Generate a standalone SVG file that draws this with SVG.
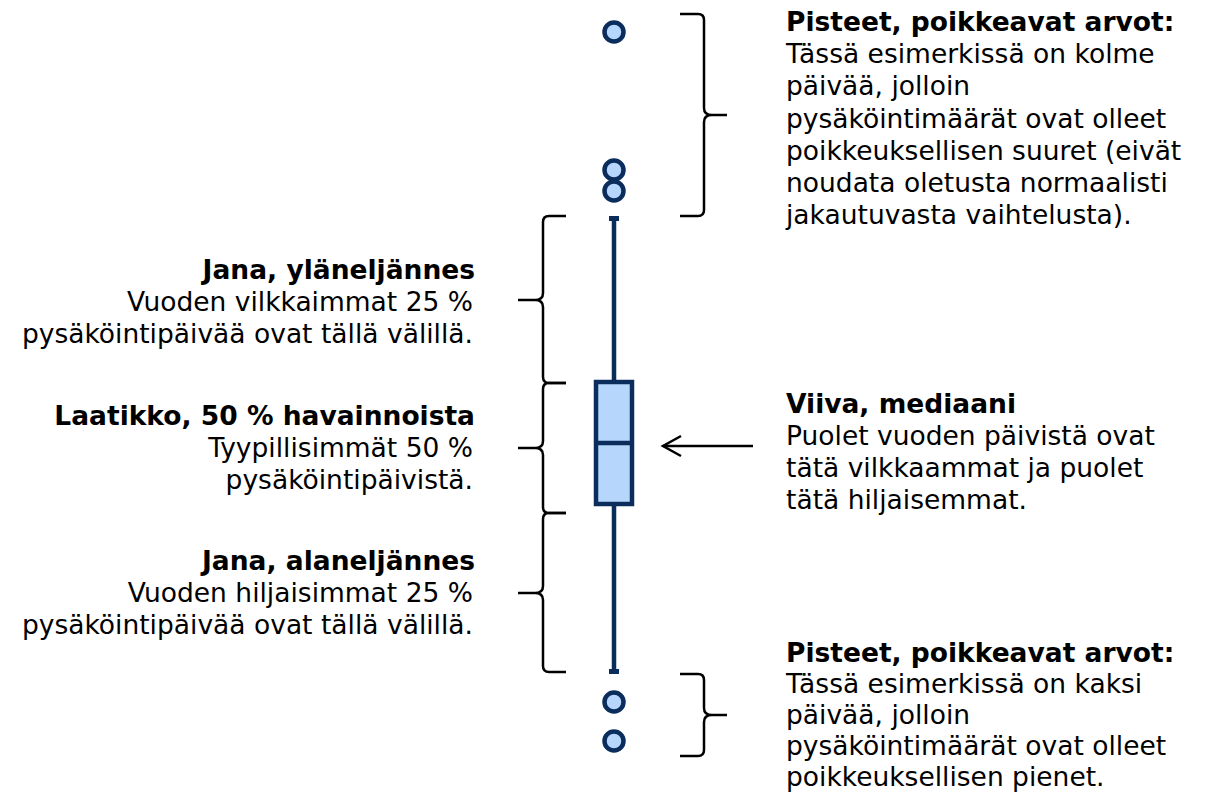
<svg xmlns="http://www.w3.org/2000/svg" width="1214" height="793" viewBox="0 0 1214 793">
<style>
text{font-family:"DejaVu Sans","Verdana",sans-serif;font-size:26.5px;fill:#000}
.b{font-weight:bold}
.r{text-anchor:end}
.brace{fill:none;stroke:#000;stroke-width:2.5;stroke-linejoin:round}
.ln{stroke:#0b2d5c;stroke-width:4.5;fill:none}
.pt{fill:#b6d6fb;stroke:#0b2d5c;stroke-width:4.5}
</style>
<rect width="1214" height="793" fill="#fff"/>
<g id="boxplot">
<line class="ln" x1="614" y1="218" x2="614" y2="381"/>
<line class="ln" x1="614" y1="505" x2="614" y2="672"/>
<rect x="609" y="216" width="10" height="5" fill="#0b2d5c"/>
<rect x="609" y="669" width="10" height="5" fill="#0b2d5c"/>
<rect x="596" y="382" width="36" height="122" fill="#b6d6fb" stroke="#0b2d5c" stroke-width="4.5"/>
<line class="ln" x1="596" y1="443" x2="632" y2="443" stroke-width="4"/>
<circle class="pt" cx="614" cy="32" r="9.5"/>
<circle class="pt" cx="614" cy="170" r="9.5"/>
<circle class="pt" cx="614" cy="191" r="9.5"/>
<circle class="pt" cx="614" cy="702" r="9.5"/>
<circle class="pt" cx="614" cy="741" r="9.5"/>
</g>
<g id="connectors">
<path class="brace" d="M680,14 H698 Q704,14 704,20 V108 Q704,115 712,115 H727 M712,115 Q704,115 704,122 V210 Q704,216 698,216 H680"/>
<path class="brace" d="M680,674 H698 Q704,674 704,680 V708 Q704,715 712,715 H727 M712,715 Q704,715 704,722 V750 Q704,756 698,756 H680"/>
<path class="brace" d="M566,216 H549 Q543,216 543,222 V293 Q543,300 535,300 H518 M535,300 Q543,300 543,307 V377 Q543,383 549,383 H566"/>
<path class="brace" d="M566,383 H549 Q543,383 543,389 V441 Q543,448 535,448 H518 M535,448 Q543,448 543,455 V507 Q543,513 549,513 H566"/>
<path class="brace" d="M566,513 H549 Q543,513 543,519 V586 Q543,593 535,593 H518 M535,593 Q543,593 543,600 V666 Q543,672 549,672 H566"/>
<line x1="753" y1="446" x2="663" y2="446" stroke="#000" stroke-width="2.5"/>
<polyline points="681,436 663,446 681,456" fill="none" stroke="#000" stroke-width="2.5"/>
</g>
<g id="label-top-outliers">
<text class="b" x="786" y="31">Pisteet, poikkeavat arvot:</text>
<text x="786" y="63">Tässä esimerkissä on kolme</text>
<text x="786" y="95">päivää, jolloin</text>
<text x="786" y="128">pysäköintimäärät ovat olleet</text>
<text x="786" y="160">poikkeuksellisen suuret (eivät</text>
<text x="786" y="192">noudata oletusta normaalisti</text>
<text x="786" y="224">jakautuvasta vaihtelusta).</text>
</g>
<g id="label-upper-whisker">
<text class="b r" x="475" y="279">Jana, yläneljännes</text>
<text class="r" x="473" y="311">Vuoden vilkkaimmat 25 %</text>
<text class="r" x="473" y="343">pysäköintipäivää ovat tällä välillä.</text>
</g>
<g id="label-box">
<text class="b r" x="475" y="425">Laatikko, 50 % havainnoista</text>
<text class="r" x="473" y="457">Tyypillisimmät 50 %</text>
<text class="r" x="473" y="489">pysäköintipäivistä.</text>
</g>
<g id="label-lower-whisker">
<text class="b r" x="475" y="570">Jana, alaneljännes</text>
<text class="r" x="473" y="602">Vuoden hiljaisimmat 25 %</text>
<text class="r" x="473" y="634">pysäköintipäivää ovat tällä välillä.</text>
</g>
<g id="label-median">
<text class="b" x="786" y="413">Viiva, mediaani</text>
<text x="786" y="445">Puolet vuoden päivistä ovat</text>
<text x="786" y="477">tätä vilkkaammat ja puolet</text>
<text x="786" y="509">tätä hiljaisemmat.</text>
</g>
<g id="label-bottom-outliers">
<text class="b" x="786" y="662">Pisteet, poikkeavat arvot:</text>
<text x="786" y="693">Tässä esimerkissä on kaksi</text>
<text x="786" y="724">päivää, jolloin</text>
<text x="786" y="755">pysäköintimäärät ovat olleet</text>
<text x="786" y="786">poikkeuksellisen pienet.</text>
</g>
</svg>
